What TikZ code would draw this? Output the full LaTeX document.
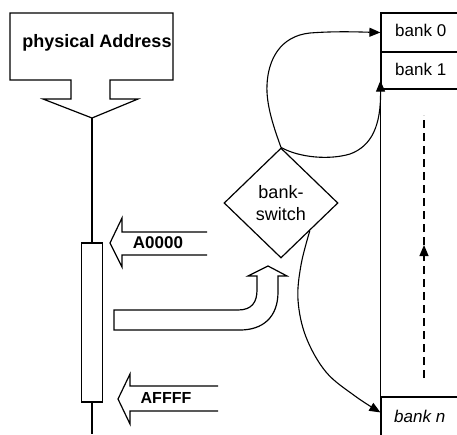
\documentclass[tikz,border=0pt]{standalone}
\usepackage{fontspec}
\setmainfont{Liberation Sans}
\usetikzlibrary{arrows.meta,shapes.geometric,calc}
\begin{document}
\begin{tikzpicture}[x=1pt,y=-1pt,
  thinline/.style={line width=1.1pt},
  shapeline/.style={line width=1.2pt, line join=miter},
  tipped/.style={-{Triangle[length=11pt,width=9pt]}},
  lbl/.style={inner sep=0pt, font=\fontsize{17}{20}\selectfont},
  boldlbl/.style={inner sep=0pt, font=\fontsize{17}{20}\selectfont\bfseries},
  bankbox/.style={draw, line width=1.2pt, minimum width=99pt, inner sep=0pt},
  dashline/.style={line width=1.2pt, dash pattern=on 8pt off 5pt},
]
\useasboundingbox (0,0) rectangle (457,434);

% physical address callout
\draw[shapeline] (10,13) -- (173,13) -- (173,80) -- (110,80) -- (110,99) -- (138,99)
  -- (92,118) -- (43,99) -- (71,99) -- (71,80) -- (10,80) -- cycle;
\coordinate (patip) at (92,118);
\node[boldlbl, font=\fontsize{18}{20}\selectfont\bfseries, anchor=base] (pa) at (97,47) {physical Address};

% register bar
\node[draw, shapeline, minimum width=21pt, minimum height=159pt, inner sep=0pt] (reg) at (92,322.5) {};
\coordinate (regbot) at (92,434);
\draw[thinline] (patip) -- (reg.north);
\draw[thinline] (reg.south) -- (regbot);

% A0000 arrow
\draw[shapeline] (207,232) -- (122,232) -- (122,218) -- (110,243) -- (122,267) -- (122,255) -- (207,255);
\node[boldlbl, anchor=base] (a0) at (158,248) {A0000};

% AFFFF arrow
\draw[shapeline] (218,386) -- (130,386) -- (130,374) -- (118,399) -- (130,424) -- (130,411) -- (218,411);
\node[boldlbl, font=\fontsize{16}{20}\selectfont\bfseries, anchor=base] (af) at (166,403) {AFFFF};

% U-turn block arrow
\draw[shapeline] (114,310) -- (238,310) .. controls (252,310) and (257,302) .. (257,290)
  -- (257,276) -- (248,276) -- (268,266) -- (287,276) -- (278,276) -- (278,292)
  .. controls (278,318) and (262,330) .. (240,330) -- (114,330) -- cycle;

% bank-switch diamond
\node[draw, shape=diamond, shapeline, minimum width=114pt, minimum height=110pt, inner sep=0pt,
      align=center, font=\fontsize{18}{22}\selectfont] (sw) at (281,203) {bank-\\switch};

% bank column
\node[bankbox, minimum height=39pt] (b0) at (430.5,32.5) {};
\node[bankbox, minimum height=37pt] (b1) at (430.5,70.5) {};
\node[bankbox, minimum height=43pt] (bn) at (430.5,418.5) {};
\draw[shapeline] (b1.south west) -- (bn.north west);
\node[lbl, anchor=base west] (t0) at (395,36) {bank 0};
\node[lbl, anchor=base west] (t1) at (395,75) {bank 1};
\node[lbl, anchor=base west, font=\fontsize{17}{20}\selectfont\itshape] (tn) at (394,422) {bank n};

% dashed arrow
\coordinate (dtop) at (424,115);
\coordinate (dmid) at (424,245);
\coordinate (dbot) at (424,378);
\draw[dashline, tipped] (dbot) -- (dmid);
\draw[dashline] (dmid) -- (dtop);

% curves
\coordinate (c1) at ($(b1.south west)+(0,-9)$);
\coordinate (cn) at ($(bn.north west)+(0,16)$);
\draw[thinline, tipped] (sw.north) .. controls (274,128) and (266,105) .. (267,85)
  .. controls (268,60) and (280,36) .. (310,33)
  .. controls (335,31) and (360,32) .. (b0.west);
\draw[thinline, tipped] (sw.north) .. controls (300,158) and (330,160) .. (350,154)
  .. controls (372,146) and (381,125) .. (c1);
\draw[thinline, tipped] plot[smooth, tension=0.6] coordinates
  {(sw.south east) (301,265) (298,300) (306,337) (326,372) (355,396) (cn)};
\end{tikzpicture}
\end{document}
